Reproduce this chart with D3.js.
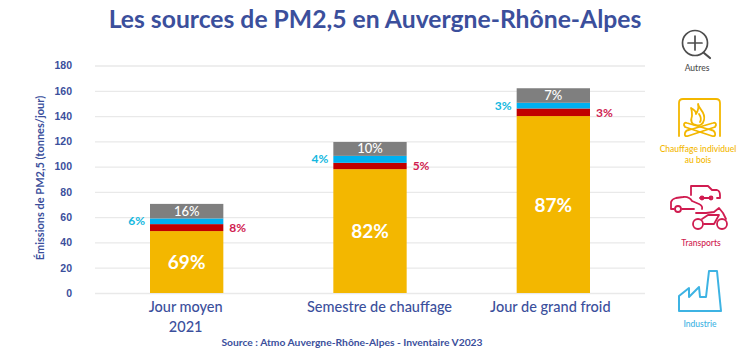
<!DOCTYPE html>
<html><head><meta charset="utf-8">
<script src="https://cdn.jsdelivr.net/npm/d3@7"></script>
<style>html,body{margin:0;background:#fff}svg{display:block;font-family:Lato,sans-serif}</style>
</head><body><svg id="c" width="750" height="354"></svg>
<script>
const categories = ["Jour moyen|2021", "Semestre de chauffage", "Jour de grand froid"];
const seriesNames = ["Chauffage individuel au bois", "Transports", "Industrie", "Autres"];
const chauffage = [49, 98, 140];
const transports = [5.5, 5, 6];
const industrie = [4.5, 5.5, 4.5];
const autres = [11.5, 11, 11.5];
const pctChauffage = ["69%", "82%", "87%"];
const pctTransports = ["8%", "5%", "3%"];
const pctIndustrie = ["6%", "4%", "3%"];
const pctAutres = ["16%", "10%", "7%"];
const yTicks = [0, 20, 40, 60, 80, 100, 120, 140, 160, 180];
const colors = ["#f3b700", "#c00000", "#00b0f0", "#7f7f7f"];
const navy = "#3b4f9c";

const svg = d3.select("#c");
const x = d3.scaleBand().domain(categories).range([95, 645]).paddingInner(0.6).paddingOuter(0.3);
const y = d3.scaleLinear().domain([0, 180]).range([293, 65.5]);

svg.append("text").attr("x", 375).attr("y", 28).attr("text-anchor", "middle")
  .attr("font-size", 24.7).attr("font-weight", 700).attr("fill", navy)
  .text("Les sources de PM2,5 en Auvergne-Rhône-Alpes");

const yAxis = d3.axisLeft(y).tickValues(yTicks).tickSize(-550).tickPadding(23);
const ga = svg.append("g").attr("transform", "translate(95,0)").call(yAxis);
ga.select(".domain").remove();
ga.selectAll(".tick line").attr("stroke", "#e9e9e9").attr("stroke-width", 1.3);
ga.selectAll(".tick text").attr("fill", navy).attr("font-size", 10.5).attr("font-weight", 700);

svg.append("text").attr("transform", "translate(44,178) rotate(-90)").attr("text-anchor", "middle")
  .attr("font-size", 11).attr("font-weight", 700).attr("fill", navy)
  .text("Émissions de PM2,5 (tonnes/jour)");

const rows = categories.map((c, i) => ({cat: c, a: chauffage[i], b: transports[i], c: industrie[i], d: autres[i]}));
const stack = d3.stack().keys(["a", "b", "c", "d"])(rows);
svg.append("g").selectAll("g").data(stack).join("g").attr("fill", (d, i) => colors[i])
  .selectAll("rect").data(d => d).join("rect")
  .attr("x", d => x(d.data.cat)).attr("width", x.bandwidth())
  .attr("y", d => y(d[1])).attr("height", d => y(d[0]) - y(d[1]));

const labelShift = [-1, 9.5, -3];
const mid = (s, i) => y((stack[s][i][0] + stack[s][i][1]) / 2);
categories.forEach((c, i) => {
  const cx = x(c) + x.bandwidth() / 2;
  svg.append("text").attr("x", cx).attr("y", mid(0, i) + 7).attr("text-anchor", "middle")
    .attr("font-size", 19).attr("font-weight", 700).attr("fill", "#fff").text(pctChauffage[i]);
  svg.append("text").attr("x", cx).attr("y", mid(3, i) + 4.5).attr("text-anchor", "middle")
    .attr("font-size", 13).attr("font-weight", 500).attr("fill", "#fff").text(pctAutres[i]);
  svg.append("text").attr("x", x(c) + x.bandwidth() + 6).attr("y", mid(1, i) + 4.5).attr("font-size", 12)
    .attr("font-weight", 700).attr("fill", "#d01c50").text(pctTransports[i]);
  svg.append("text").attr("x", x(c) - 5).attr("y", mid(2, i) + 4).attr("text-anchor", "end").attr("font-size", 12)
    .attr("font-weight", 700).attr("fill", "#14b8e0").text(pctIndustrie[i]);
  c.split("|").forEach((t, k) => svg.append("text").attr("x", cx + labelShift[i]).attr("y", 312 + k * 19.5)
    .attr("text-anchor", "middle").attr("font-size", 14.5).attr("font-weight", 500).attr("fill", navy).text(t));
});

svg.append("text").attr("x", 352).attr("y", 346).attr("text-anchor", "middle").attr("font-size", 10.3)
  .attr("font-weight", 700).attr("fill", navy).text("Source : Atmo Auvergne-Rhône-Alpes -  Inventaire V2023");

// Legend icons
const icon = (color, draw) => draw(svg.append("g").attr("fill", "none").attr("stroke", color)
  .attr("stroke-linecap", "round").attr("stroke-linejoin", "round"));
const label = (t, xx, yy, col) => svg.append("text").attr("x", xx).attr("y", yy).attr("text-anchor", "middle")
  .attr("font-size", 8.5).attr("font-weight", 500).attr("fill", col).text(t);

icon("#4d4d4d", g => {
  g.attr("stroke-width", 1.7);
  g.append("circle").attr("cx", 695).attr("cy", 43).attr("r", 12.5);
  g.append("path").attr("d", "M688 43H702M695 36V50");
  g.append("path").attr("stroke-width", 2.2).attr("d", "M704 53L710 58");
});
label("Autres", 697, 71, "#4d4d4d");

icon("#f3b700", g => {
  g.attr("stroke-width", 1.8);
  g.append("path").attr("d", "M679 136V103Q679 99 683 99H716Q720 99 720 103V136");
  g.append("path").attr("d", "M698 104C699 110 706 112 704 120C703 125 699 126 696 125C692 125 690 121 692 116C692 113 692 110 691 108C695 110 696 112 696 114C698 111 699 108 698 104Z");
  g.append("path").attr("d", "M699 114C701 117 702 119 700 122");
  g.append("path").attr("d", "M685 127L712 136Q716 137 715 133Q714 130 711 130L687 123Q684 122 684 125Z");
  g.append("path").attr("d", "M715 127L688 136Q684 137 685 133Q686 130 689 130L713 123Q716 122 716 125Z");
});
label("Chauffage individuel", 698, 151.5, "#f3b700");
label("au bois", 698, 163, "#f3b700");

icon("#d01c50", g => {
  g.attr("stroke-width", 1.8);
  g.append("path").attr("d", "M691 195V186H708L712 190H717Q720 191 720 195V198H717");
  g.append("path").attr("d", "M700 198H711");
  g.append("circle").attr("cx", 702).attr("cy", 198).attr("r", 1.5);
  g.append("circle").attr("cx", 711).attr("cy", 198).attr("r", 1.5);
  g.append("path").attr("d", "M674 209H671V202Q672 199 676 198L683 197Q689 196 692 201L699 204Q703 206 702 209");
  g.append("circle").attr("cx", 678).attr("cy", 209).attr("r", 3);
  g.append("path").attr("d", "M682 209H694");
  g.append("circle").attr("cx", 698).attr("cy", 224).attr("r", 5);
  g.append("circle").attr("cx", 722).attr("cy", 224).attr("r", 5);
  g.append("path").attr("d", "M696 213H706L714 212L719 208L723 213L726 219M704 224H714L719 215H708L702 219");
});
label("Transports", 701, 246, "#d01c50");

icon("#3db3e3", g => {
  g.attr("stroke-width", 2);
  g.append("path").attr("d", "M679 311V296L689 288V297L699 287L700 297H706L709 271H717L721 311Z");
});
label("Industrie", 700, 327, "#3db3e3");
</script></body></html>
